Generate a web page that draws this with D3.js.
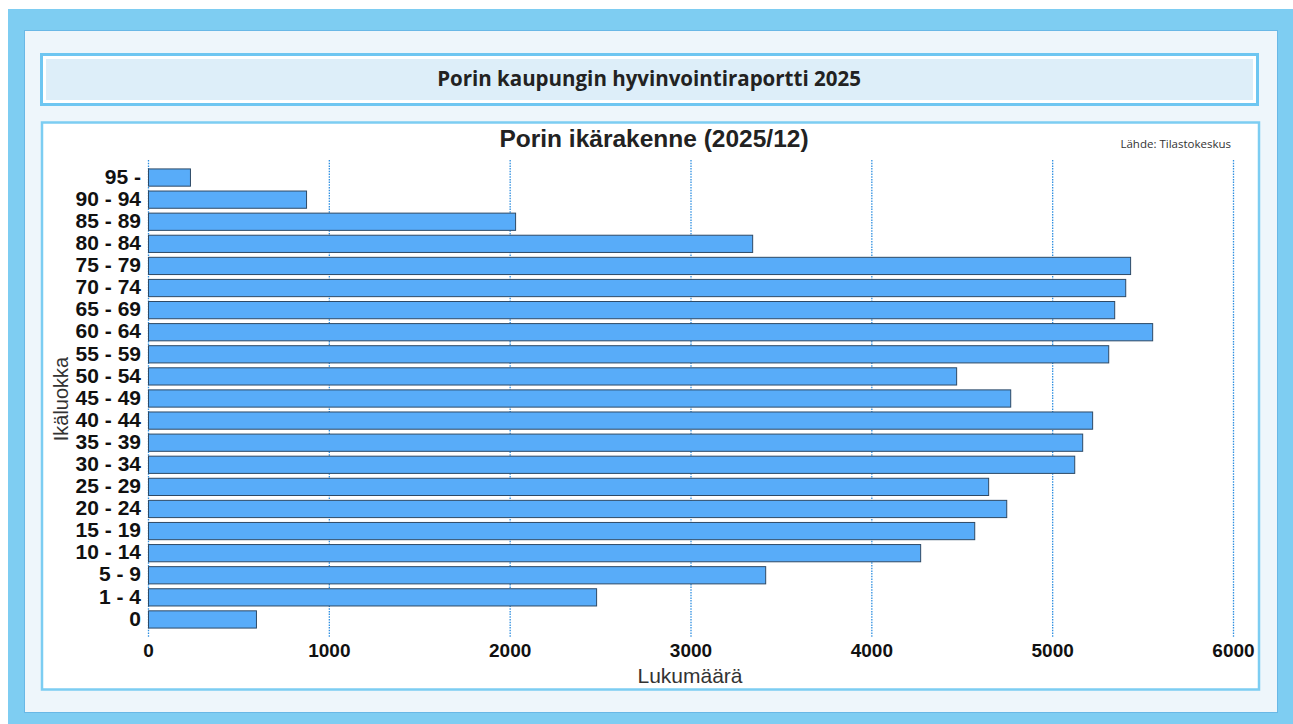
<!DOCTYPE html>
<html><head><meta charset="utf-8">
<script src="https://cdn.jsdelivr.net/npm/d3@7"></script>
<style>body{margin:0;background:#fff;}svg{display:block;}</style>
</head><body>
<svg id="c" width="1293" height="724"></svg>
<script>
const categories = ["95 -","90 - 94","85 - 89","80 - 84","75 - 79","70 - 74","65 - 69","60 - 64","55 - 59","50 - 54","45 - 49","40 - 44","35 - 39","30 - 34","25 - 29","20 - 24","15 - 19","10 - 14","5 - 9","1 - 4","0"];
const values = [232,874,2030,3341,5431,5404,5343,5553,5310,4469,4768,5221,5166,5122,4646,4746,4569,4270,3413,2478,597];
const xTicks = [0,1000,2000,3000,4000,5000,6000];
const pageTitle = "Porin kaupungin hyvinvointiraportti 2025";
const chartTitle = "Porin ikärakenne (2025/12)";
const sourceText = "Lähde: Tilastokeskus";
const xTitle = "Lukumäärä";
const yTitle = "Ikäluokka";

const svg = d3.select("#c");
// frames
svg.append("rect").attr("x",8).attr("y",9).attr("width",1285).attr("height",715).attr("fill","#7ecdf2");
svg.append("rect").attr("x",24.5).attr("y",30.5).attr("width",1253).attr("height",682).attr("fill","#eef6fb").attr("stroke","#69b8e6").attr("stroke-width",1);
// header
svg.append("rect").attr("x",41.5).attr("y",54.5).attr("width",1216).attr("height",50).attr("fill","#fff").attr("stroke","#6ec6f1").attr("stroke-width",3);
svg.append("rect").attr("x",46).attr("y",59).attr("width",1207).attr("height",41).attr("fill","#ddeef9");
svg.append("text").attr("x",649).attr("y",78).attr("text-anchor","middle").attr("dominant-baseline","central")
  .attr("font-family","'Open Sans', 'DejaVu Sans', sans-serif").attr("font-weight","bold").attr("font-size",20.5).attr("fill","#222").text(pageTitle);
// chart box
svg.append("rect").attr("x",42).attr("y",122.5).attr("width",1217).attr("height",567).attr("fill","#fff").attr("stroke","#7ccdf2").attr("stroke-width",2.5);

svg.append("text").attr("x",654).attr("y",138).attr("text-anchor","middle").attr("dominant-baseline","central")
  .attr("font-family","'Liberation Sans', Arial, sans-serif").attr("font-weight","bold").attr("font-size",24.5).attr("fill","#222").text(chartTitle);
svg.append("text").attr("x",1231).attr("y",143).attr("text-anchor","end").attr("dominant-baseline","central")
  .attr("font-family","'Open Sans', sans-serif").attr("font-size",11.5).attr("fill","#333").text(sourceText);

const x = d3.scaleLinear().domain([0,6000]).range([148,1233]);
const y = d3.scaleBand().domain(categories).range([166,630]).paddingInner(0.22).paddingOuter(0.11);

// gridlines
svg.append("g").selectAll("line").data(xTicks).join("line")
  .attr("x1",d=>x(d)+0.5).attr("x2",d=>x(d)+0.5).attr("y1",160).attr("y2",637)
  .attr("stroke","#2f8fe0").attr("stroke-width",1.3).attr("stroke-dasharray","1.5,1.2");

// bars
svg.append("g").selectAll("rect").data(values).join("rect")
  .attr("x",x(0)+0.5).attr("y",(d,i)=>y(categories[i])+0.5)
  .attr("width",d=>x(d)-x(0)).attr("height",y.bandwidth())
  .attr("fill","#58acf9").attr("stroke","#2e4a66").attr("stroke-width",1);

// y axis
const ya = svg.append("g").attr("transform",`translate(${x(0)-6},0)`).call(d3.axisLeft(y).tickSize(0).tickPadding(1));
ya.select(".domain").remove();
ya.selectAll("text").attr("font-family","'Liberation Sans', Arial, sans-serif").attr("font-weight","bold").attr("font-size",21).attr("fill","#111");

// x axis
const xa = svg.append("g").attr("transform","translate(0,641)").call(d3.axisBottom(x).tickValues(xTicks).tickSize(0).tickPadding(2).tickFormat(d3.format("d")));
xa.select(".domain").remove();
xa.selectAll("text").attr("font-family","'Liberation Sans', Arial, sans-serif").attr("font-weight","bold").attr("font-size",19).attr("fill","#111");

svg.append("text").attr("x",690).attr("y",675).attr("text-anchor","middle").attr("dominant-baseline","central")
  .attr("font-family","'Liberation Sans', Arial, sans-serif").attr("font-size",21).attr("fill","#333").text(xTitle);
svg.append("text").attr("transform","translate(61,399) rotate(-90)").attr("text-anchor","middle").attr("dominant-baseline","central")
  .attr("font-family","'Liberation Sans', Arial, sans-serif").attr("font-size",20).attr("fill","#333").text(yTitle);
</script>
</body></html>
